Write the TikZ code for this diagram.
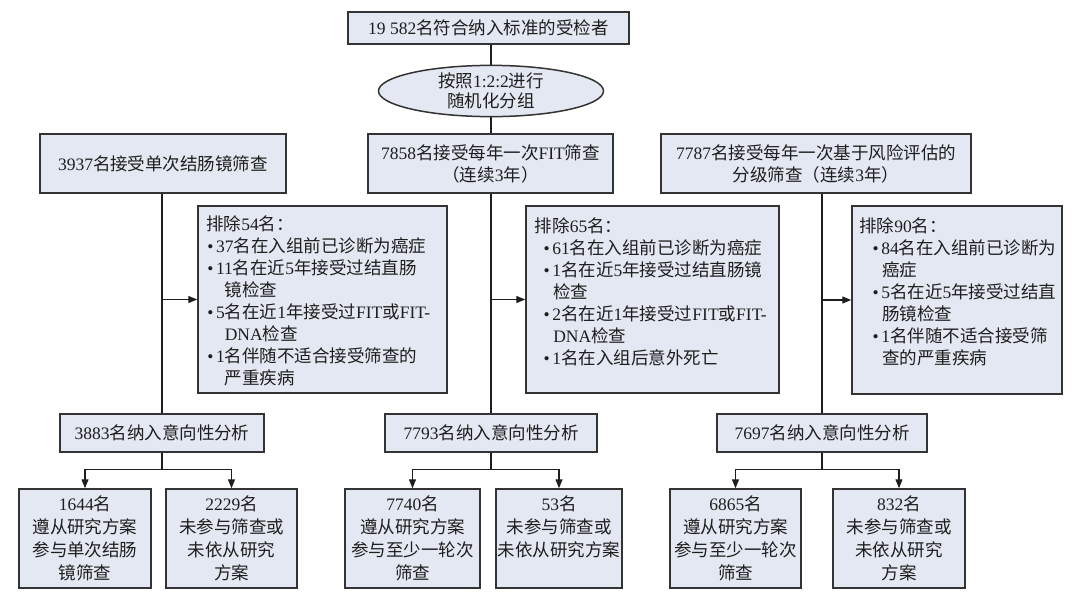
\documentclass[tikz,border=0pt]{standalone}
\usepackage{fontspec}
\setmainfont{Liberation Serif}
\newfontfamily\cjk{Noto Sans CJK SC}
\usepackage{xcolor}
\usepackage{tikz}
\usetikzlibrary{arrows.meta,
	shapes.geometric}

\definecolor{boxfill}{HTML}{E3E8F2}
\definecolor{boxline}{HTML}{333333}
\definecolor{txt}{HTML}{1E1E1E}
\newcommand{\en}[1]{{\rmfamily #1}}
\newcommand{\bul}[1][0.05em]{\hspace*{#1}\en{•}\hspace{0.15em}}
\newcommand{\contline}[1][1.05em]{\hspace*{#1}}

\begin{document}
\begin{tikzpicture}[x=1pt,y=-1pt,
        >={Triangle[length=9pt,width=7pt]},
        box/.style={draw=boxline,line width=1.5pt,fill=boxfill,inner sep=0pt,
            align=center,text=txt,font=\cjk\fontsize{17.5}{22}\selectfont},
        leaf/.style={box,minimum height=99pt,font=\cjk\fontsize{17.5}{23}\selectfont},
        exctext/.style={inner sep=0pt,align=left,text=txt,
            font=\cjk\fontsize{17.5}{22}\selectfont},
        link/.style={draw=txt,line width=1.3pt}]
        \useasboundingbox (0,0) rectangle (1080,595);

        %total
        \node[box,minimum width=281pt,minimum height=32pt] (total) at (488.5,28)
            {\en{19 582}名符合纳入标准的受检者};
        %randomisation
        \node[box,ellipse,minimum width=225pt,minimum height=48pt,
            font=\cjk\fontsize{17.5}{20}\selectfont] (rand) at (491,91)
            {按照\en{1:2:2}进行\\随机化分组};
        \draw[link] (rand.north) -- (rand.north |- total.south);
        \draw[link] (rand.south) -- (rand.south |- 0,134);

        %three arms
        \node[box,minimum width=246pt,minimum height=59pt] (arm1) at (163,163.5)
            {\en{3937}名接受单次结肠镜筛查};
        \node[box,minimum width=245pt,minimum height=59pt] (arm2) at (490.5,163.5)
            {\en{7858}名接受每年一次\en{FIT}筛查\\（连续\en{3}年）};
        \node[box,minimum width=310pt,minimum height=59pt] (arm3) at (816,163.5)
            {\en{7787}名接受每年一次基于风险评估的\\分级筛查（连续\en{3}年）};

        %exclusions
        \node[box,minimum width=249pt,minimum height=187pt] (exc1) at (322.5,299.5) {};
        \node[exctext,anchor=north west] (exc1t) at ([shift={(9pt,-10pt)}]exc1.north west)
            {排除\en{54}名：\\
            \bul\en{37}名在入组前已诊断为癌症\\
            \bul\en{11}名在近\en{5}年接受过结直肠\\
            \contline 镜检查\\
            \bul\en{5}名在近\en{1}年接受过\en{FIT}或\en{FIT-}\\
            \contline\en{DNA}检查\\
            \bul\en{1}名伴随不适合接受筛查的\\
            \contline 严重疾病};

        \node[box,minimum width=253pt,minimum height=187pt] (exc2) at (652.5,299.5) {};
        \node[exctext,anchor=north west] (exc2t) at ([shift={(9.5pt,-12pt)}]exc2.north west)
            {排除\en{65}名：\\
            \bul[0.5em]\en{61}名在入组前已诊断为癌症\\
            \bul[0.5em]\en{1}名在近\en{5}年接受过结直肠镜\\
            \contline 检查\\
            \bul[0.5em]\en{2}名在近\en{1}年接受过\en{FIT}或\en{FIT-}\\
            \contline\en{DNA}检查\\
            \bul[0.5em]\en{1}名在入组后意外死亡};

        \node[box,minimum width=210pt,minimum height=188pt] (exc3) at (957,300) {};
        \node[exctext,anchor=north west] (exc3t) at ([shift={(8pt,-12pt)}]exc3.north west)
            {排除\en{90}名：\\
            \bul[0.75em]\en{84}名在入组前已诊断为\\
            \contline[1.3em]癌症\\
            \bul[0.75em]\en{5}名在近\en{5}年接受过结直\\
            \contline[1.3em]肠镜检查\\
            \bul[0.75em]\en{1}名伴随不适合接受筛\\
            \contline[1.3em]查的严重疾病};

        %ITT
        \node[box,minimum width=204pt,minimum height=38pt] (itt1) at (162,433)
            {\en{3883}名纳入意向性分析};
        \node[box,minimum width=212pt,minimum height=38pt] (itt2) at (491,433)
            {\en{7793}名纳入意向性分析};
        \node[box,minimum width=210pt,minimum height=38pt] (itt3) at (822,433)
            {\en{7697}名纳入意向性分析};

        \draw[link] (arm1.south -| itt1.north) -- (itt1.north);
        \draw[link] (arm2.south -| itt2.north) -- (itt2.north);
        \draw[link] (arm3.south -| itt3.north) -- (itt3.north);
        \draw[link,->] (exc1.west -| itt1.north) -- (exc1.west);
        \draw[link,->] (exc2.west -| itt2.north) -- (exc2.west);
        \draw[link,->] (exc3.west -| itt3.north) -- (exc3.west);

        %outcome
        \node[leaf,minimum width=132pt] (out1a) at (85,538.5)
            {\en{1644}名\\遵从研究方案\\参与单次结肠\\镜筛查};
        \node[leaf,minimum width=131pt] (out1b) at (231.5,538.5)
            {\en{2229}名\\未参与筛查或\\未依从研究\\方案};
        \node[leaf,minimum width=135pt] (out2a) at (412.5,538.5)
            {\en{7740}名\\遵从研究方案\\参与至少一轮次\\筛查};
        \node[leaf,minimum width=126pt] (out2b) at (559,538.5)
            {\en{53}名\\未参与筛查或\\未依从研究方案\\\phantom{方案}};
        \node[leaf,minimum width=131pt] (out3a) at (735.5,538.5)
            {\en{6865}名\\遵从研究方案\\参与至少一轮次\\筛查};
        \node[leaf,minimum width=132pt] (out3b) at (899,538.5)
            {\en{832}名\\未参与筛查或\\未依从研究\\方案};

        \draw[link,->] (itt1.south) |- ([yshift=19pt]out1a.north) -- (out1a.north);
        \draw[link,->] (itt1.south) |- ([yshift=19pt]out1b.north) -- (out1b.north);
        \draw[link,->] (itt2.south) |- ([yshift=19pt]out2a.north) -- (out2a.north);
        \draw[link,->] (itt2.south) |- ([yshift=19pt]out2b.north) -- (out2b.north);
        \draw[link,->] (itt3.south) |- ([yshift=19pt]out3a.north) -- (out3a.north);
        \draw[link,->] (itt3.south) |- ([yshift=19pt]out3b.north) -- (out3b.north);
    \end{tikzpicture}
\end{document}
